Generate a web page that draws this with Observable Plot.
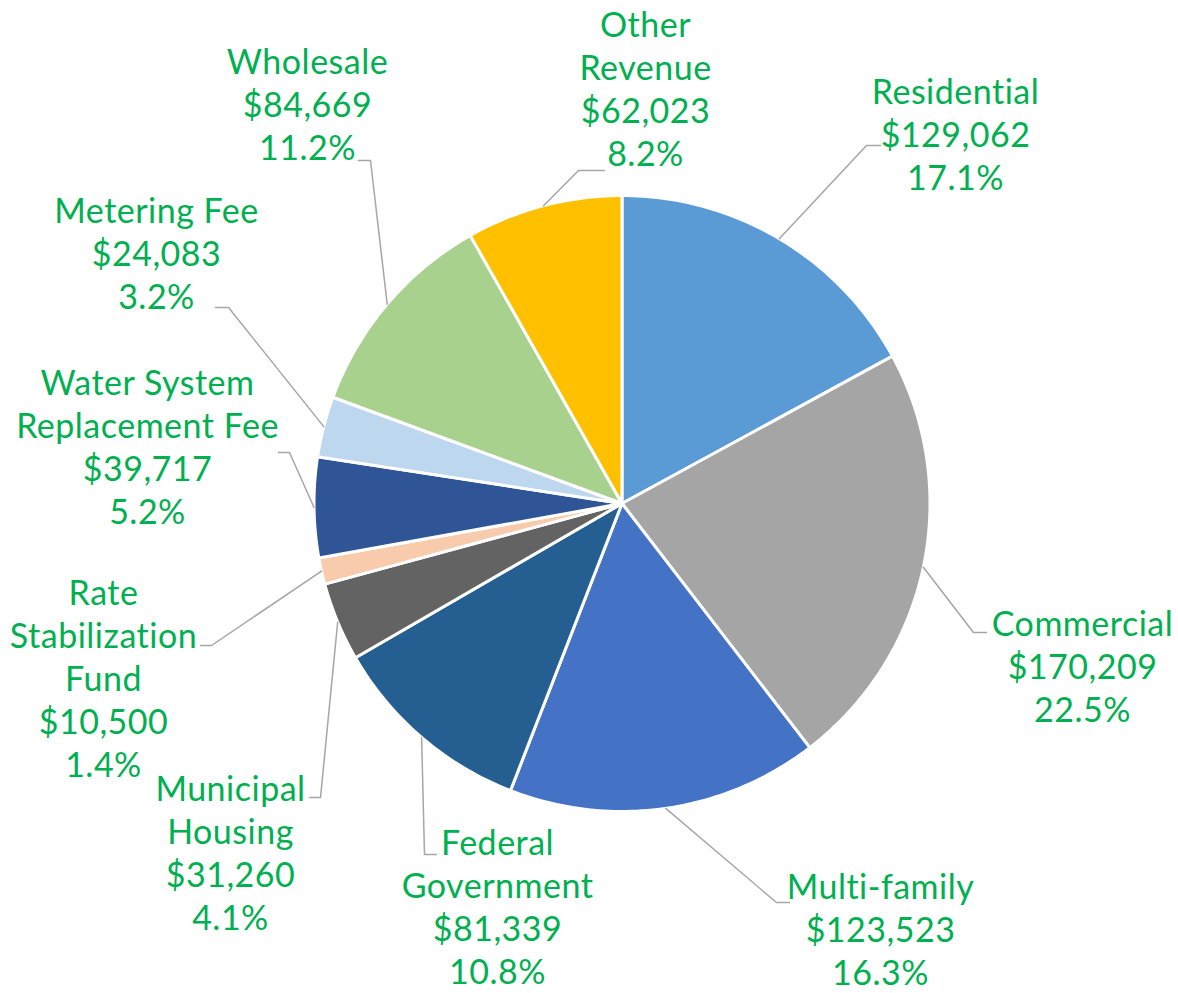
<!DOCTYPE html>
<html>
<head>
<meta charset="utf-8">
<script src="https://cdn.jsdelivr.net/npm/d3@7"></script>
<script src="https://cdn.jsdelivr.net/npm/@observablehq/plot@0.6"></script>
<style>
  html, body { margin: 0; padding: 0; background: #fff; }
  #chart svg { display: block; }
  #chart svg text { letter-spacing: 0.5px; }
</style>
</head>
<body>
<div id="chart"></div>
<script>
// ---- data ----
const categories = ["Residential", "Commercial", "Multi-family", "Federal Government", "Municipal Housing",
  "Rate Stabilization Fund", "Water System Replacement Fee", "Metering Fee", "Wholesale", "Other Revenue"];
const values = [129062, 170209, 123523, 81339, 31260, 10500, 39717, 24083, 84669, 62023];
const percents = ["17.1%", "22.5%", "16.3%", "10.8%", "4.1%", "1.4%", "5.2%", "3.2%", "11.2%", "8.2%"];
const labelNames = ["Residential", "Commercial", "Multi-family", "Federal\nGovernment", "Municipal\nHousing",
  "Rate\nStabilization\nFund", "Water System\nReplacement Fee", "Metering Fee", "Wholesale", "Other\nRevenue"];
const colors = ["#5B9BD5", "#A5A5A5", "#4472C4", "#255E91", "#636363",
  "#F8CBAD", "#2F5597", "#BDD7EE", "#A9D18E", "#FFC000"];

// ---- layout (pixels) ----
const W = 1178, H = 993;
const cx = 621.5, cy = 503, R = 308;
// label block centre, leader elbow, leader end
const labelLayout = [
  {lx: 955, ly: 133, ex: 866, ey: 145, hx: 880},
  {lx: 1082, ly: 665, ex: 973, ey: 632, hx: 986},
  {lx: 880, ly: 928, ex: 776, ey: 902, hx: 789},
  {lx: 497, ly: 905, ex: 424, ey: 854, hx: 436},
  {lx: 230, ly: 851, ex: 320, ey: 797, hx: 309},
  {lx: 103, ly: 677, ex: 211, ey: 645, hx: 200},
  {lx: 147, ly: 445, ex: 289, ey: 452, hx: 278},
  {lx: 156, ly: 252, ex: 228, ey: 307, hx: 215},
  {lx: 307, ly: 103, ex: 370, ey: 160, hx: 358},
  {lx: 645, ly: 87,  ex: 578, ey: 170, hx: 604}
];

const fmt = d3.format("$,");

const pie = d3.pie().sort(null).value(d => d)(values);
const px = a => cx + R * Math.sin(a);
const py = a => cy - R * Math.cos(a);

const marks = [];
pie.forEach((p, i) => {
  const n = Math.max(4, Math.ceil((p.endAngle - p.startAngle) / (Math.PI / 180)));
  const pts = [{x: cx, y: cy}];
  for (let k = 0; k <= n; k++) {
    const a = p.startAngle + (p.endAngle - p.startAngle) * k / n;
    pts.push({x: px(a), y: py(a)});
  }
  marks.push(Plot.line(pts, {x: "x", y: "y", curve: "linear-closed", fill: colors[i], stroke: "#fff", strokeWidth: 3, strokeLinejoin: "round"}));
});

const leaders = [];
pie.forEach((p, i) => {
  const a = (p.startAngle + p.endAngle) / 2;
  const L = labelLayout[i];
  leaders.push({id: i, x: px(a), y: py(a)}, {id: i, x: L.ex, y: L.ey}, {id: i, x: L.hx, y: L.ey});
});
marks.push(Plot.line(leaders, {x: "x", y: "y", z: "id", stroke: "#A6A6A6", strokeWidth: 1.5}));

const labels = categories.map((c, i) => ({
  x: labelLayout[i].lx, y: labelLayout[i].ly,
  text: `${labelNames[i]}\n${fmt(values[i])}\n${percents[i]}`
}));
marks.push(Plot.text(labels, {x: "x", y: "y", text: "text", fill: "#00B050", fontSize: 34,
  fontFamily: "Lato", lineHeight: 43 / 34, lineAnchor: "middle", textAnchor: "middle"}));

const chart = Plot.plot({
  width: W, height: H,
  margin: 0,
  x: {domain: [0, W], range: [0, W], axis: null},
  y: {domain: [0, H], range: [0, H], axis: null},
  style: {background: "#fff"},
  marks
});
document.getElementById("chart").appendChild(chart);
</script>
</body>
</html>
